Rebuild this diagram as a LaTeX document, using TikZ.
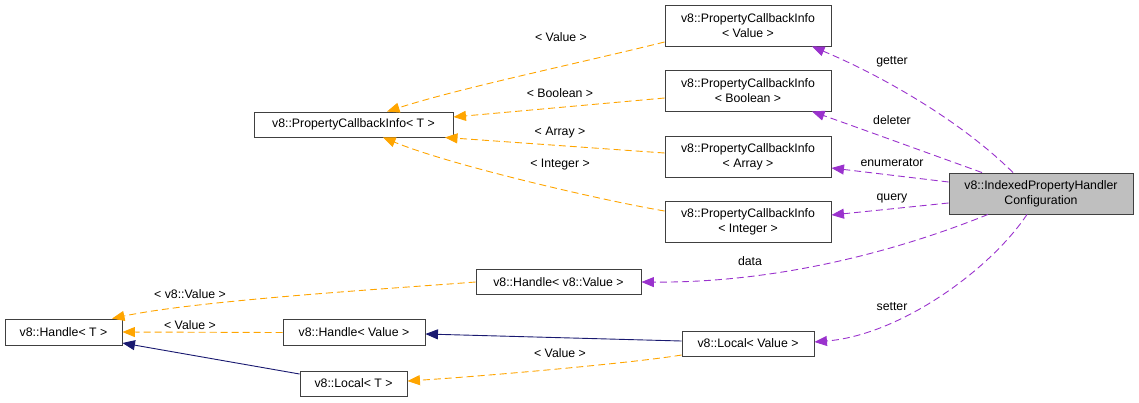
\documentclass[tikz,border=0pt]{standalone}
\usepackage{fontspec}
\setmainfont{Liberation Sans}
\usetikzlibrary{arrows.meta,calc}
\definecolor{edgeorange}{HTML}{FFA500}
\definecolor{edgepurple}{HTML}{9A32CD}
\definecolor{edgenavy}{HTML}{191970}
\definecolor{boxline}{HTML}{404040}
\begin{document}
\begin{tikzpicture}[x=1pt,y=-1pt,
  cls/.style={draw=boxline,line width=0.9pt,fill=white,inner sep=0pt,align=center,
    font=\fontsize{12.3}{15}\selectfont},
  lbl/.style={font=\fontsize{12.3}{15}\selectfont,inner sep=0pt},
  tip/.style={-{Triangle[length=12.5pt,width=10pt]}},
  member/.style={tip,draw=edgepurple,dash pattern=on 7pt off 4pt,line width=0.9pt},
  tmpl/.style={tip,draw=edgeorange,dash pattern=on 7pt off 4pt,line width=0.9pt},
  inherit/.style={tip,draw=edgenavy,line width=0.9pt}]
\useasboundingbox (0,0) rectangle (1139,402);

% classes
\node[cls,minimum width=166pt,minimum height=41pt] (pciV) at (748,25.5) {v8::PropertyCallbackInfo\\< Value >};
\node[cls,minimum width=166pt,minimum height=41pt] (pciB) at (748,90.5) {v8::PropertyCallbackInfo\\< Boolean >};
\node[cls,minimum width=166pt,minimum height=41pt] (pciA) at (748,156.5) {v8::PropertyCallbackInfo\\< Array >};
\node[cls,minimum width=166pt,minimum height=41pt] (pciI) at (748,221.5) {v8::PropertyCallbackInfo\\< Integer >};
\node[cls,fill=black!25,minimum width=184pt,minimum height=41pt] (iphc) at (1041,193.5) {v8::IndexedPropertyHandler\\Configuration};
\node[cls,minimum width=199pt,minimum height=25pt] (pciT) at (353.5,124.5) {v8::PropertyCallbackInfo< T >};
\node[cls,minimum width=165pt,minimum height=25pt] (hv8) at (558.5,282) {v8::Handle< v8::Value >};
\node[cls,minimum width=117pt,minimum height=26pt] (hT) at (63.5,332) {v8::Handle< T >};
\node[cls,minimum width=142pt,minimum height=26pt] (hVal) at (354,332.5) {v8::Handle< Value >};
\node[cls,minimum width=107pt,minimum height=25pt] (lT) at (353.5,383.5) {v8::Local< T >};
\node[cls,minimum width=132pt,minimum height=25pt] (lVal) at (748,343.5) {v8::Local< Value >};

% member relations
\draw[member] ($(iphc.north)+(-28,0)$) .. controls (960,120) and (880,75) .. ($(pciV.south)+(64,0)$);
\draw[member] ($(iphc.north)+(-59,0)$) .. controls (925,152) and (870,132) .. ($(pciB.south)+(64,0)$);
\draw[member] ($(iphc.west)+(0,-11.5)$) -- ($(pciA.east)+(0,11.5)$);
\draw[member] ($(iphc.west)+(0,9.5)$) -- ($(pciI.east)+(0,-6.5)$);
\draw[member] ($(iphc.south)+(-53,0)$) .. controls (900,250) and (780,283) .. (hv8.east);
\draw[member] ($(iphc.south)+(-14,0)$) .. controls (990,270) and (900,335) .. ($(lVal.east)+(0,-1.5)$);
\node[lbl] (lgetter) at (892,62) {getter};
\node[lbl] (ldeleter) at (892,120) {deleter};
\node[lbl] (lenum) at (892,163) {enumerator};
\node[lbl] (lquery) at (892,198) {query};
\node[lbl] (ldata) at (750,261) {data};
\node[lbl] (lsetter) at (892,307) {setter};

% template instantiations
\draw[tmpl] ($(pciV.west)+(0,16.5)$) .. controls (580,63) and (460,88) .. ($(pciT.north)+(33.5,0)$);
\draw[tmpl] ($(pciB.west)+(0,7.5)$) -- ($(pciT.east)+(0,-7.5)$);
\draw[tmpl] ($(pciA.west)+(0,-3.5)$) -- ($(pciT.south)+(91.5,0)$);
\draw[tmpl] ($(pciI.west)+(0,-10.5)$) .. controls (600,200) and (450,165) .. ($(pciT.south)+(29.5,0)$);
\draw[tmpl] (hv8.west) .. controls (400,288) and (200,300) .. ($(hT.north)+(48.5,0)$);
\draw[tmpl] (hVal.west) -- (hT.east);
\draw[tmpl] ($(lVal.west)+(0,11.5)$) .. controls (640,362) and (500,375) .. ($(lT.east)+(0,-2.5)$);
\node[lbl] (lpv) at (561,37) {< Value >};
\node[lbl] (lpb) at (560,93) {< Boolean >};
\node[lbl] (lpa) at (560,133) {< Array >};
\node[lbl] (lpi) at (560,165) {< Integer >};
\node[lbl] (lhv8) at (190,294) {< v8::Value >};
\node[lbl] (lhv) at (190,325) {< Value >};
\node[lbl] (llv) at (560,353) {< Value >};

% inheritance
\draw[inherit] ($(lVal.west)+(0,-2.5)$) -- ($(hVal.east)+(0,1.5)$);
\draw[inherit] ($(lT.west)+(0,-9.5)$) -- ($(hT.east)+(0,11)$);
\end{tikzpicture}
\end{document}
